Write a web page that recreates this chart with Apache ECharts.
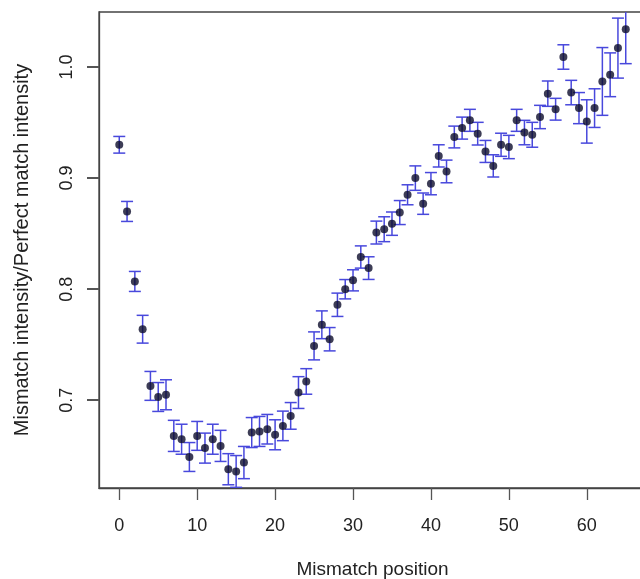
<!DOCTYPE html>
<html>
<head>
<meta charset="utf-8">
<script src="https://cdn.jsdelivr.net/npm/echarts@6/dist/echarts.min.js"></script>
<style>
  html, body { margin: 0; padding: 0; background: #fff; }
  #chart { width: 640px; height: 579px; }
</style>
</head>
<body>
<div id="chart"></div>
<script>
// mismatch position 0..65
const positions = [];
for (let i = 0; i <= 65; i++) positions.push(i);

// mean intensity ratio per position
const means = [
  0.930, 0.870, 0.807, 0.764, 0.713, 0.703, 0.705, 0.668, 0.665, 0.649,
  0.668, 0.657, 0.665, 0.659, 0.638, 0.636, 0.644, 0.671, 0.672, 0.674,
  0.669, 0.677, 0.686, 0.707, 0.717, 0.749, 0.768, 0.755, 0.786, 0.800,
  0.808, 0.829, 0.819, 0.851, 0.854, 0.859, 0.869, 0.885, 0.900, 0.877,
  0.895, 0.920, 0.906, 0.937, 0.945, 0.952, 0.940, 0.924, 0.911, 0.930,
  0.928, 0.952, 0.941, 0.939, 0.955, 0.976, 0.962, 1.009, 0.977, 0.963,
  0.951, 0.963, 0.987, 0.993, 1.017, 1.034
];

// half length of the error bars
const errs = [
  0.0075, 0.009, 0.009, 0.0125, 0.013, 0.013, 0.0135, 0.014, 0.0135, 0.013,
  0.013, 0.0135, 0.0135, 0.014, 0.014, 0.0143, 0.0145, 0.0135, 0.0135, 0.0133,
  0.0135, 0.0133, 0.012, 0.0143, 0.0115, 0.0126, 0.0125, 0.0105, 0.0105, 0.0087,
  0.0095, 0.010, 0.0102, 0.0103, 0.0112, 0.0105, 0.0108, 0.009, 0.011, 0.0096,
  0.010, 0.010, 0.0102, 0.0098, 0.0099, 0.0099, 0.0102, 0.0099, 0.010, 0.0104,
  0.0105, 0.0099, 0.011, 0.0112, 0.0105, 0.0114, 0.0098, 0.011, 0.011, 0.014,
  0.0195, 0.0174, 0.0305, 0.0197, 0.027, 0.031
];

const xTicks = [0, 10, 20, 30, 40, 50, 60];
const yTicks = [0.7, 0.8, 0.9, 1.0];
const xMin = -2.6, xMax = 67.6;
const yMin = 0.6211, yMax = 1.0495;

const font = '"Liberation Sans", Arial, sans-serif';
const textColor = '#222';
const barColor = '#4848dc';
const lineColor = '#444';
const tickLen = 12;

const points = positions.map((p, i) => [p, means[i]]);
const bars = positions.map((p, i) => [p, means[i] - errs[i], means[i] + errs[i]]);

const chart = echarts.init(document.getElementById('chart'));

chart.setOption({
  animation: false,
  grid: {
    left: 99, top: 12, right: -6, bottom: 91,
    outerBoundsMode: 'none',
    show: true, borderColor: lineColor, borderWidth: 1.3, backgroundColor: 'transparent'
  },
  xAxis: {
    type: 'value',
    min: xMin, max: xMax,
    name: 'Mismatch position',
    nameLocation: 'middle',
    nameGap: 72,
    nameTextStyle: { fontFamily: font, fontSize: 19, color: textColor },
    axisLine: { show: true, onZero: false, lineStyle: { color: lineColor, width: 1.3 } },
    axisTick: { show: true, length: tickLen, customValues: xTicks, lineStyle: { color: '#555', width: 1.3 } },
    axisLabel: { customValues: xTicks, margin: 29, fontFamily: font, fontSize: 18, color: textColor },
    splitLine: { show: false }
  },
  yAxis: {
    type: 'value',
    position: 'left',
    min: yMin, max: yMax,
    name: 'Mismatch intensity/Perfect match intensity',
    nameLocation: 'middle',
    nameGap: 67,
    nameTextStyle: { fontFamily: font, fontSize: 20, color: textColor },
    axisLine: { show: true, onZero: false, lineStyle: { color: lineColor, width: 1.3 } },
    axisTick: { show: false },
    axisLabel: {
      customValues: yTicks, rotate: 90, margin: 23,
      fontFamily: font, fontSize: 18, color: textColor,
      formatter: v => v.toFixed(1)
    },
    splitLine: { show: false }
  },
  series: [
    {
      type: 'custom',
      clip: true,
      data: bars,
      renderItem: function (params, api) {
        const x = api.value(0);
        const lo = api.coord([x, api.value(1)]);
        const hi = api.coord([x, api.value(2)]);
        const half = 6;
        const style = { stroke: barColor, lineWidth: 1.5, fill: null };
        return {
          type: 'group',
          children: [
            { type: 'line', shape: { x1: lo[0], y1: lo[1], x2: hi[0], y2: hi[1] }, style: style },
            { type: 'line', shape: { x1: lo[0] - half, y1: lo[1], x2: lo[0] + half, y2: lo[1] }, style: style },
            { type: 'line', shape: { x1: hi[0] - half, y1: hi[1], x2: hi[0] + half, y2: hi[1] }, style: style }
          ]
        };
      },
      z: 2
    },
    {
      type: 'scatter',
      data: points,
      symbol: 'circle',
      symbolSize: 8,
      itemStyle: { color: '#0c0c2c' },
      z: 3
    }
  ]
});

// y ticks placed through the axis scale
const leftX = chart.convertToPixel({ xAxisIndex: 0 }, xMin);
chart.setOption({
  graphic: yTicks.map(v => {
    const y = Math.round(chart.convertToPixel({ yAxisIndex: 0 }, v));
    return {
      type: 'rect',
      shape: { x: leftX - tickLen, y: y - 1, width: tickLen, height: 2 },
      style: { fill: '#555' },
      z: 100
    };
  })
});
</script>
</body>
</html>
